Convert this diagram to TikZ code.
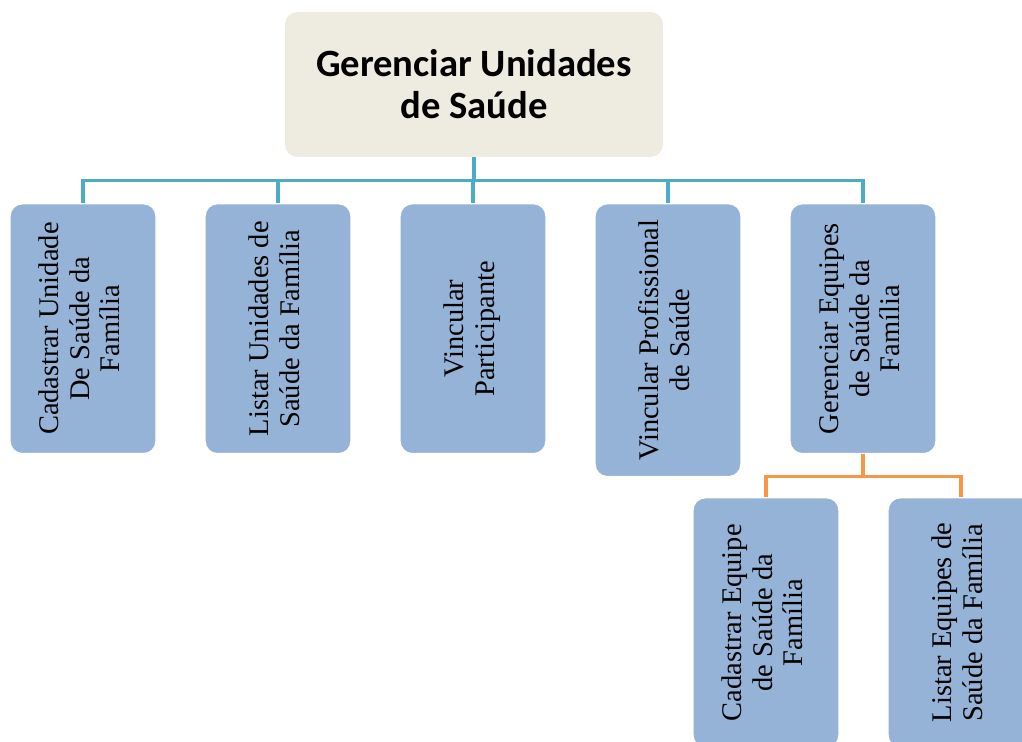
\documentclass[tikz,border=0pt]{standalone}
\usepackage{fontspec}
\setmainfont{Liberation Serif}
\newfontfamily\titlefont{Carlito}
\usepackage{graphicx}
\usetikzlibrary{positioning}

\definecolor{boxblue}{HTML}{95B3D7}
\definecolor{boxbeige}{HTML}{EEECE1}
\definecolor{linkteal}{HTML}{4BACC6}
\definecolor{linkorange}{HTML}{F79646}

\tikzset{
  taskbox/.style={draw=white, line width=0.8pt, fill=boxblue,
    rounded corners=7pt, minimum width=2.92cm, minimum height=5cm,
    anchor=north, inner sep=0pt, font=\fontsize{16.2}{17.3}\selectfont},
  rootbox/.style={fill=boxbeige, rounded corners=7pt, minimum width=7.56cm,
    minimum height=2.9cm, align=center,
    font=\titlefont\bfseries\fontsize{22}{24}\selectfont},
  tealline/.style={draw=linkteal, line width=1.8pt},
  orangeline/.style={draw=linkorange, line width=1.8pt}
}

\newcommand{\vtext}[1]{\rotatebox{90}{\begin{tabular}{@{}c@{}}#1\end{tabular}}}

\begin{document}
\begin{tikzpicture}[x=0.02cm,y=-0.02cm]
\useasboundingbox (0,0) rectangle (1022,742);
\clip (0,0) rectangle (1022,742);

% top box
\node[rootbox] (root) at (474,84.5) {Gerenciar Unidades\\de Saúde};

% first row
\node[taskbox] (b1) at (83,203) {\vtext{Cadastrar Unidade\\De Saúde da\\Família}};
\node[taskbox] (b2) at (278,203) {\vtext{Listar Unidades de\\Saúde da Família}};
\node[taskbox] (b3) at (473,203) {\vtext{Vincular\\Participante}};
\node[taskbox, minimum height=5.46cm] (b4) at (668,203) {\vtext{Vincular Profissional\\de Saúde}};
\node[taskbox] (b5) at (863,203) {\vtext{Gerenciar Equipes\\de Saúde da\\Família}};

% second row
\node[taskbox] (c1) at (766,497) {\vtext{Cadastrar Equipe\\de Saúde da\\Família}};
\node[taskbox] (c2) at (961,497) {\vtext{Listar Equipes de\\Saúde da Família}};

% draw teal connectors
\draw[tealline] (root.south) -- ++(0,23) coordinate (tjoin);
\foreach \n in {b1,b2,b3,b4,b5}
\draw[tealline] (tjoin) -| (\n.north);

% draw orange connectors
\draw[orangeline] (b5.south) -- ++(0,22) coordinate (ojoin);
\foreach \n in {c1,c2}
\draw[orangeline] (ojoin) -| (\n.north);
\end{tikzpicture}
\end{document}
